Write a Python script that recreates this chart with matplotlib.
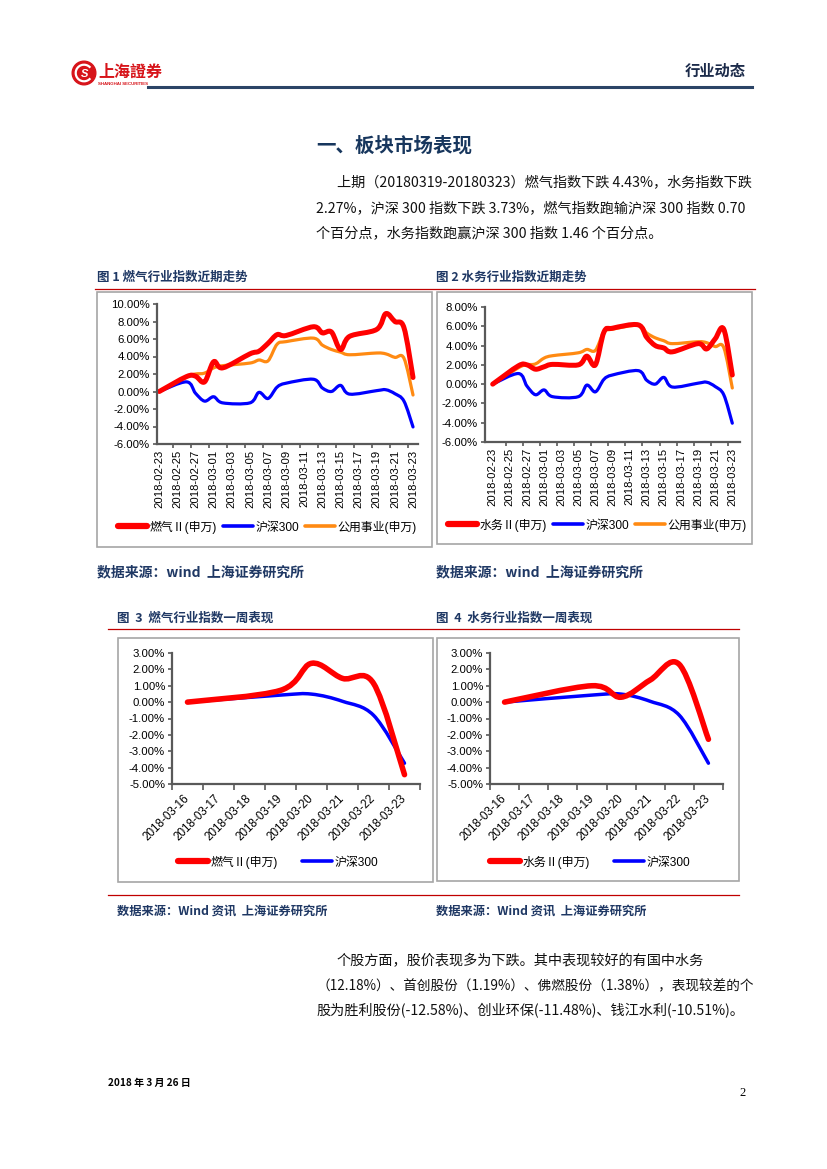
import matplotlib

matplotlib.use("Agg")

import matplotlib.pyplot as plt
import numpy as np
import pandas as pd
from matplotlib.lines import Line2D
from matplotlib.patches import Circle, Arc, PathPatch, Rectangle
from matplotlib.path import Path

plt.rcParams["font.family"] = ["Liberation Sans", "Noto Sans CJK SC", "DejaVu Sans"]

W, H = 827, 1169
CJK = ["Noto Sans CJK SC", "DejaVu Sans"]
NAVY = "#1f3864"
RULE_RED = "#c00000"

# ---- data: recent trend (cumulative %, trading days) ----
trend_dates = [
    "2018-02-23", "2018-02-26", "2018-02-27", "2018-02-28", "2018-03-01",
    "2018-03-02", "2018-03-05", "2018-03-06", "2018-03-07", "2018-03-08",
    "2018-03-09", "2018-03-12", "2018-03-13", "2018-03-14", "2018-03-15",
    "2018-03-16", "2018-03-19", "2018-03-20", "2018-03-21", "2018-03-22",
    "2018-03-23",
]
gas_trend = [0, 1.7, 1.75, 1.1, 3.4, 2.7, 4.3, 4.6, 5.5, 6.5, 6.4,
             7.4, 6.7, 6.8, 4.8, 6.3, 7.1, 8.9, 8.0, 7.3, 1.6]
water_trend = [0, 1.9, 2.0, 1.55, 1.8, 2.05, 2.0, 2.9, 2.0, 5.4, 5.8,
               6.15, 4.85, 4.0, 3.75, 3.35, 4.2, 3.65, 4.7, 5.7, 0.95]
utility_trend = [0, 1.7, 2.0, 2.1, 2.7, 2.95, 3.25, 3.6, 3.5, 5.4, 5.7,
                 6.1, 5.3, 4.8, 4.5, 4.2, 4.4, 4.3, 3.9, 3.8, -0.4]
hs300_trend = [0, 1.1, -0.2, -1.1, -0.6, -1.3, -1.3, -0.1, -0.8, 0.5, 0.95,
               1.4, 0.4, 0.0, 0.7, -0.3, 0.1, 0.2, -0.25, -1.1, -4.05]

# ---- data: one week performance ----
week_dates = ["2018-03-16", "2018-03-19", "2018-03-20", "2018-03-21",
              "2018-03-22", "2018-03-23"]
week_categories = ["2018-03-16", "2018-03-17", "2018-03-18", "2018-03-19",
                   "2018-03-20", "2018-03-21", "2018-03-22", "2018-03-23"]
gas_week = [0, 0.72, 2.37, 1.45, 1.15, -4.43]
water_week = [0, 1.0, 0.3, 1.35, 2.3, -2.27]
hs300_week = [0, 0.43, 0.49, 0.05, -0.8, -3.73]

trend_ticks = pd.date_range("2018-02-23", "2018-03-23", freq="2D")

RED, BLUE, ORANGE = "#ff0000", "#0000ff", "#ff8a12"


def fx(x):
    return x / W


def fy(y):
    return 1 - y / H


def day_offsets(dates, start):
    return ((pd.to_datetime(dates) - pd.Timestamp(start)).days).to_numpy(float)


def smooth_path(x, y):
    # Excel-style smoothed line (Catmull-Rom as cubic Bezier)
    pts = np.column_stack([x, y]).astype(float)
    n = len(pts)
    verts = [pts[0]]
    codes = [Path.MOVETO]
    for i in range(n - 1):
        p0 = pts[i - 1] if i > 0 else pts[i]
        p1, p2 = pts[i], pts[i + 1]
        p3 = pts[i + 2] if i + 2 < n else pts[i + 1]
        verts += [p1 + (p2 - p0) / 6, p2 - (p3 - p1) / 6, p2]
        codes += [Path.CURVE4] * 3
    return Path(verts, codes)


def draw_series(ax, x, y, color, lw):
    ax.add_patch(PathPatch(smooth_path(x, y), fill=False, edgecolor=color,
                           lw=lw, capstyle="round", joinstyle="round"))


def add_axes_px(fig, left, top, right, bottom):
    return fig.add_axes([fx(left), fy(bottom), (right - left) / W, (bottom - top) / H])


def style_axes(ax, ymin, ymax, step):
    for side in ["top", "right"]:
        ax.spines[side].set_visible(False)
    for side in ["left", "bottom"]:
        ax.spines[side].set_color("#595959")
        ax.spines[side].set_linewidth(1.6)
    ax.set_ylim(ymin, ymax)
    yt = np.arange(ymin, ymax + 0.01, step)
    ax.set_yticks(yt)
    ax.set_yticklabels([f"{v:.2f}%" for v in yt], fontsize=8.2)
    ax.tick_params(axis="y", direction="out", length=3, width=1.2,
                   color="#595959", pad=2)
    ax.set_facecolor("none")


def fig_line(fig, x0, x1, y, color, lw):
    fig.add_artist(Line2D([fx(x0), fx(x1)], [fy(y), fy(y)],
                          transform=fig.transFigure, color=color, lw=lw))


def fig_box(fig, x0, y0, x1, y1):
    fig.add_artist(Rectangle((fx(x0), fy(y1)), (x1 - x0) / W, (y1 - y0) / H,
                             transform=fig.transFigure, fill=False,
                             edgecolor="#a6a6a6", lw=1.2))


def add_legend(fig, entries, cx, cy, colspacing):
    handles = [Line2D([], [], color=c, lw=lw, solid_capstyle="round")
               for _, c, lw in entries]
    fig.legend(handles, [t for t, _, _ in entries], loc="center",
               bbox_to_anchor=(fx(cx), fy(cy)), ncol=len(entries), frameon=False,
               fontsize=8.6, handlelength=2.5, handletextpad=0.2,
               columnspacing=colspacing, borderpad=0)


def plot_trend(fig, box, industry, industry_name, ymin, ymax, xlim, legend_pos):
    ax = add_axes_px(fig, *box)
    x = day_offsets(trend_dates, trend_dates[0])
    draw_series(ax, x, utility_trend, ORANGE, 2.3)
    draw_series(ax, x, hs300_trend, BLUE, 2.3)
    draw_series(ax, x, industry, RED, 3.6)
    style_axes(ax, ymin, ymax, 2)
    ax.set_xlim(*xlim)
    tick_x = day_offsets(trend_ticks, trend_dates[0])
    ax.set_xticks(tick_x)
    ax.set_xticklabels([d.strftime("%Y-%m-%d") for d in trend_ticks],
                       rotation=90, fontsize=8.1)
    ax.set_xticks(tick_x[:-1] + 1.5, minor=True)
    ax.tick_params(axis="x", which="major", length=0, pad=4)
    ax.tick_params(axis="x", which="minor", direction="out", length=3,
                   width=1.2, color="#595959")
    add_legend(fig, [(industry_name, RED, 4.5), ("沪深300", BLUE, 2.6),
                     ("公用事业(申万)", ORANGE, 2.6)], *legend_pos, 0.5)


def plot_week(fig, box, industry, industry_name, legend_pos):
    ax = add_axes_px(fig, *box)
    x = day_offsets(week_dates, week_categories[0])
    draw_series(ax, x, hs300_week, BLUE, 2.5)
    draw_series(ax, x, industry, RED, 4.0)
    style_axes(ax, -5, 3, 1)
    ax.set_xlim(-0.5, len(week_categories) - 0.5)
    ax.set_xticks(range(len(week_categories)))
    ax.set_xticklabels(week_categories, rotation=45, ha="right", va="center",
                       rotation_mode="anchor", fontsize=8.4)
    ax.set_xticks(np.arange(-0.5, len(week_categories)), minor=True)
    ax.tick_params(axis="x", which="major", length=0, pad=9)
    ax.tick_params(axis="x", which="minor", direction="out", length=4,
                   width=1.2, color="#595959")
    add_legend(fig, [(industry_name, RED, 4.5), ("沪深300", BLUE, 2.6)],
               *legend_pos, 2.0)


def fit_lines(fig, texts, right_px):
    # shrink paragraph lines that run past the right margin
    fig.canvas.draw()
    renderer = fig.canvas.get_renderer()
    for t in texts:
        bb = t.get_window_extent(renderer)
        if bb.x1 > right_px:
            t.set_fontsize(t.get_fontsize() * (right_px - bb.x0) / bb.width)


def draw_page_text(fig):
    # logo
    logo = fig.add_axes([fx(71), fy(86), 26 / W, 26 / H])
    logo.set_xlim(-1.1, 1.1)
    logo.set_ylim(-1.1, 1.1)
    logo.set_aspect("equal")
    logo.axis("off")
    logo.add_patch(Circle((0, 0), 1.0, color="#d7141a"))
    logo.add_patch(Arc((0, 0), 1.4, 1.4, theta1=40, theta2=320, color="white", lw=1.6))
    logo.text(0.05, -0.05, "S", color="white", fontsize=8, fontweight="bold",
              ha="center", va="center", style="italic")
    fig.text(fx(98), fy(72), "上海證券", color="#d7141a", fontsize=11.5,
             fontweight="bold", family=["Noto Sans CJK TC", "DejaVu Sans"], va="center")
    fig.text(fx(98), fy(84), "SHANGHAI SECURITIES", color="#d7141a", fontsize=3.2,
             fontweight="bold", va="center")

    fig.text(fx(746), fy(71), "行业动态", fontsize=11, fontweight="bold",
             color="#1c2b4a", family=CJK, ha="right", va="center")
    fig_line(fig, 148, 752, 87, "#2b4466", 2.2)

    fig.text(fx(316), fy(146), "一、板块市场表现", fontsize=14, fontweight="bold",
             color="#17365d", family=CJK, va="center")

    para_lines = []
    para1 = [
        (337, "上期（20180319-20180323）燃气指数下跌 4.43%，水务指数下跌"),
        (316, "2.27%，沪深 300 指数下跌 3.73%，燃气指数跑输沪深 300 指数 0.70"),
        (316, "个百分点，水务指数跑赢沪深 300 指数 1.46 个百分点。"),
    ]
    para2 = [
        (337, "个股方面，股价表现多为下跌。其中表现较好的有国中水务"),
        (316, "（12.18%）、首创股份（1.19%）、佛燃股份（1.38%），表现较差的个"),
        (316, "股为胜利股份(-12.58%)、创业环保(-11.48%)、钱江水利(-10.51%)。"),
    ]
    for para, ys in [(para1, [182, 208, 233]), (para2, [961, 986, 1011])]:
        for (x, line), y in zip(para, ys):
            para_lines.append(fig.text(fx(x), fy(y), line, fontsize=10.2, family=CJK,
                                       va="center", color="#111111"))

    # chart titles, rules and sources
    fig.text(fx(97), fy(277), "图 1 燃气行业指数近期走势", fontsize=9, fontweight="bold",
             color=NAVY, family=CJK, va="center")
    fig.text(fx(436), fy(277), "图 2 水务行业指数近期走势", fontsize=9, fontweight="bold",
             color=NAVY, family=CJK, va="center")
    fig_line(fig, 95, 755, 289, RULE_RED, 0.9)
    fig.text(fx(117), fy(618), "图  3  燃气行业指数一周表现", fontsize=9,
             fontweight="bold", color=NAVY, family=CJK, va="center")
    fig.text(fx(436), fy(618), "图  4  水务行业指数一周表现", fontsize=9,
             fontweight="bold", color=NAVY, family=CJK, va="center")
    fig_line(fig, 108, 739, 629, RULE_RED, 0.9)
    fig_line(fig, 108, 739, 895, RULE_RED, 0.9)

    fig_box(fig, 97, 292, 432, 547)
    fig_box(fig, 437, 292, 752, 544)
    fig_box(fig, 118, 638, 433, 882)
    fig_box(fig, 437, 638, 739, 881)

    src = dict(fontweight="bold", color=NAVY, family=CJK, va="center", style="italic")
    fig.text(fx(97), fy(572), "数据来源：wind  上海证券研究所", fontsize=10, **src)
    fig.text(fx(436), fy(572), "数据来源：wind  上海证券研究所", fontsize=10, **src)
    fig.text(fx(117), fy(911), "数据来源：Wind 资讯  上海证券研究所", fontsize=8.8, **src)
    fig.text(fx(436), fy(911), "数据来源：Wind 资讯  上海证券研究所", fontsize=8.8, **src)

    fig.text(fx(108), fy(1083), "2018 年 3 月 26 日", fontsize=7.2, fontweight="bold",
             family=CJK, va="center")
    fig.text(fx(746), fy(1093), "2", fontsize=9, family=["Liberation Serif"],
             ha="right", va="center")
    return para_lines


def main():
    fig = plt.figure(figsize=(W / 100, H / 100), dpi=100)
    fig.patch.set_facecolor("white")

    para_lines = draw_page_text(fig)

    plot_trend(fig, (157, 304, 418, 444), gas_trend, "燃气Ⅱ(申万)",
               -6, 10, (-0.25, 28.55), (267, 527))
    plot_trend(fig, (485, 307, 740, 442), water_trend, "水务Ⅱ(申万)",
               -6, 8, (-0.9, 28.9), (597, 525))
    plot_week(fig, (172, 653, 420, 784), gas_week, "燃气Ⅱ(申万)", (278, 862))
    plot_week(fig, (490, 653, 723, 784), water_week, "水务Ⅱ(申万)", (590, 862))

    fit_lines(fig, para_lines, 752)

    fig.savefig("out.png", dpi=100)
    plt.close(fig)


if __name__ == "__main__":
    main()
